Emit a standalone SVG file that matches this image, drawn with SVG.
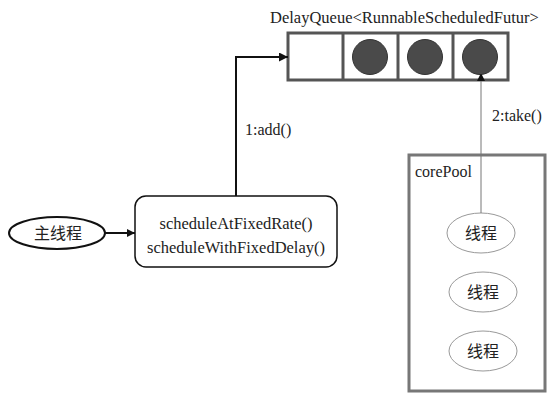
<svg xmlns="http://www.w3.org/2000/svg" width="560" height="402" viewBox="0 0 560 402">
<style>
text{font-family:"Liberation Serif","Noto Sans CJK SC",serif;font-size:16px;fill:#222}
.big{font-size:16.5px}
.cjk{font-family:"Noto Sans CJK SC",sans-serif;font-size:16px}
.q{fill:none;stroke:#555;stroke-width:3}
.ball{fill:#4a4a4a;stroke:#333;stroke-width:1}
.thread{fill:#fff;stroke:#999;stroke-width:1}
</style>
<defs>
<marker id="ah" viewBox="0 0 10 10" refX="10" refY="5" markerWidth="8" markerHeight="8" markerUnits="userSpaceOnUse" orient="auto"><path d="M0,0L10,5L0,10z" fill="#111"/></marker>
<marker id="ah2" viewBox="0 0 10 10" refX="10" refY="5" markerWidth="9" markerHeight="9" markerUnits="userSpaceOnUse" orient="auto"><path d="M0,0L10,5L0,10z" fill="#111"/></marker>
</defs>
<rect width="560" height="402" fill="#fff"/>
<g id="queue">
<text class="big" x="270" y="23">DelayQueue&lt;RunnableScheduledFutur&gt;</text>
<rect class="q" x="288" y="33" width="220" height="47"/>
<line class="q" x1="343" y1="33" x2="343" y2="80"/>
<line class="q" x1="398" y1="33" x2="398" y2="80"/>
<line class="q" x1="453" y1="33" x2="453" y2="80"/>
<circle class="ball" cx="370" cy="57" r="17.5"/>
<circle class="ball" cx="425" cy="57" r="17.5"/>
<circle class="ball" cx="480" cy="57" r="17.5"/>
</g>
<g id="main">
<ellipse cx="57" cy="233" rx="48" ry="16" fill="#fff" stroke="#111" stroke-width="2"/>
<text class="cjk" x="58" y="239" text-anchor="middle">主线程</text>
</g>
<g id="schedule">
<rect x="135" y="196" width="202" height="71" rx="11" fill="#fff" stroke="#111" stroke-width="1.5"/>
<text class="big" x="236" y="229" text-anchor="middle">scheduleAtFixedRate()</text>
<text class="big" x="236" y="253" text-anchor="middle">scheduleWithFixedDelay()</text>
</g>
<g id="corePool">
<rect x="409" y="155" width="136" height="236" fill="none" stroke="#777" stroke-width="3"/>
<text x="415" y="177">corePool</text>
</g>
<g id="thread1">
<ellipse class="thread" cx="481" cy="233" rx="34" ry="20"/>
<text class="cjk" x="481" y="239" text-anchor="middle">线程</text>
</g>
<g id="thread2">
<ellipse class="thread" cx="483" cy="292" rx="34" ry="20"/>
<text class="cjk" x="483" y="298" text-anchor="middle">线程</text>
</g>
<g id="thread3">
<ellipse class="thread" cx="483" cy="351" rx="34" ry="20"/>
<text class="cjk" x="483" y="357" text-anchor="middle">线程</text>
</g>
<g id="connectors">
<line x1="105" y1="233" x2="135" y2="233" stroke="#111" stroke-width="2" marker-end="url(#ah)"/>
<polyline points="236,196 236,57 288,57" fill="none" stroke="#111" stroke-width="2" marker-end="url(#ah2)"/>
<text x="245" y="135">1:add()</text>
<line x1="481" y1="213" x2="481" y2="73" stroke="#777" stroke-width="1" marker-end="url(#ah)"/>
<text x="492" y="121">2:take()</text>
</g>
</svg>
